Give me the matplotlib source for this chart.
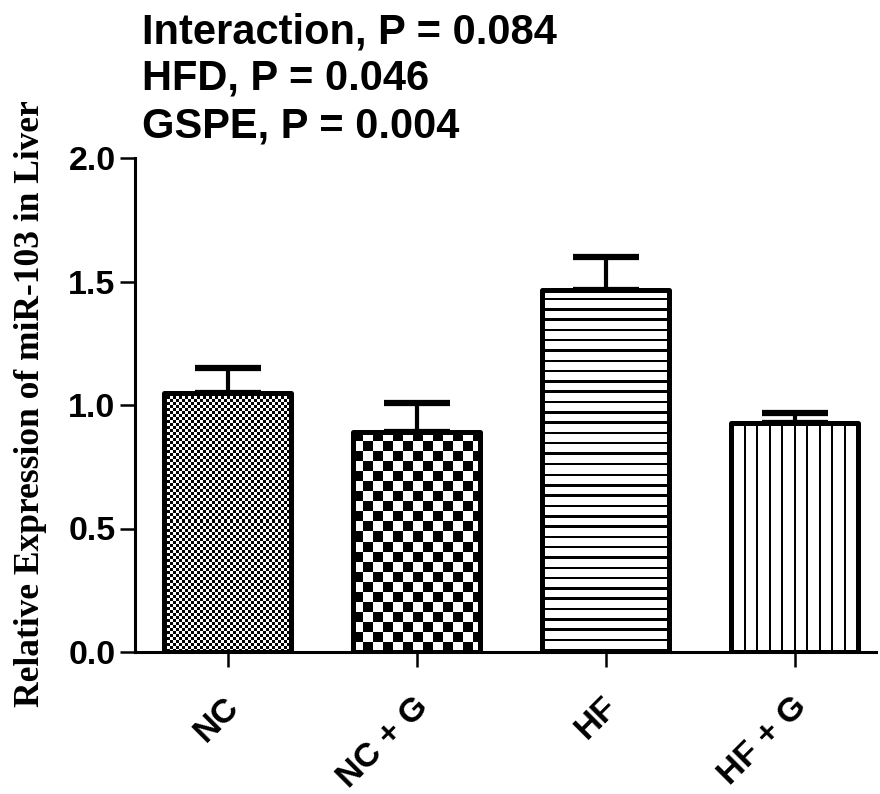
import numpy as np
import matplotlib
matplotlib.use("Agg")
from matplotlib import pyplot as plt
from matplotlib import transforms

groups = ["NC", "NC + G", "HF", "HF + G"]
means = [1.049, 0.891, 1.466, 0.927]
sems = [0.100, 0.117, 0.134, 0.041]
stats_lines = ["Interaction, P = 0.084", "HFD, P = 0.046", "GSPE, P = 0.004"]
y_ticks = [0.0, 0.5, 1.0, 1.5, 2.0]

SANS = ["Liberation Sans", "DejaVu Sans"]
SERIF = ["Liberation Serif", "DejaVu Serif"]
DPI = 100


def checker(h, w, cell):
    yy, xx = np.mgrid[0:h, 0:w]
    return ((xx // cell + yy // cell) % 2).astype(float)


def hlines(h, w, period, thick):
    yy, xx = np.mgrid[0:h, 0:w]
    return ((yy % period) < thick).astype(float)


def vlines(h, w, period, thick):
    yy, xx = np.mgrid[0:h, 0:w]
    return ((xx % period) < thick).astype(float)


fig = plt.figure(figsize=(8.8, 7.94), dpi=DPI)
ax = fig.add_axes([135 / 880, 142 / 794, 741 / 880, 494 / 794])

x = np.arange(len(groups))
width = 0.67
ax.set_xlim(-0.49, 3.43)
ax.set_ylim(0, 2.0)

ax.errorbar(x, means, yerr=[np.zeros(len(sems)), sems], fmt="none", ecolor="black",
            elinewidth=3.0, capsize=24, capthick=4.5, zorder=1)

bars = ax.bar(x, means, width=width, facecolor="none", edgecolor="black",
              linewidth=3.6, joinstyle="round", zorder=3)

# texture for each bar, in screen pixels
fills = [lambda h, w: checker(h, w, 3),
         lambda h, w: checker(h, w, 10),
         lambda h, w: hlines(h, w, 10.3, 2.5),
         lambda h, w: vlines(h, w, 12.5, 2.0)]

for b, make in zip(bars, fills):
    x0, y0 = b.get_x(), b.get_y()
    x1, y1 = x0 + b.get_width(), y0 + b.get_height()
    p0 = ax.transData.transform((x0, y0))
    p1 = ax.transData.transform((x1, y1))
    w_px = int(round(p1[0] - p0[0]))
    h_px = int(round(p1[1] - p0[1]))
    pat = make(h_px, w_px)
    bg = ax.bar(b.get_x() + b.get_width() / 2, b.get_height(), width=width,
                facecolor="white", edgecolor="none", zorder=1.5)[0]
    im = ax.imshow(pat, cmap="gray_r", vmin=0, vmax=1, extent=(x0, x1, y0, y1),
                   origin="lower", interpolation="nearest", aspect="auto", zorder=2)
    im.set_clip_path(bg)

for side in ["top", "right"]:
    ax.spines[side].set_visible(False)
for side in ["left", "bottom"]:
    ax.spines[side].set_linewidth(2.2)

ax.set_yticks(y_ticks)
ax.set_yticklabels([f"{v:.1f}" for v in y_ticks], fontfamily=SANS,
                   fontweight="bold", fontsize=24.5)
ax.set_xticks(x)
ax.set_xticklabels(groups, fontfamily=SANS, fontweight="bold", fontsize=24.5,
                   rotation=45, ha="right", va="center", rotation_mode="anchor")
ax.tick_params(axis="both", length=11, width=1.8, color="black")
ax.tick_params(axis="x", pad=25)
ax.tick_params(axis="y", pad=3)
shift = transforms.ScaledTranslation(5 / 72, 0, fig.dpi_scale_trans)
for lab in ax.get_xticklabels():
    lab.set_transform(lab.get_transform() + shift)

ax.set_ylabel("Relative Expression of miR-103 in Liver", fontfamily=SERIF,
              fontweight="bold", fontsize=25.5)
ax.yaxis.set_label_coords(-0.119, 0.502)

for i, line in enumerate(stats_lines):
    fig.text(142 / 880, 1 - (43 + 47 * i) / 794, line, fontfamily=SANS,
             fontweight="bold", fontsize=30, va="baseline", ha="left")

fig.savefig("out.png", dpi=DPI)
